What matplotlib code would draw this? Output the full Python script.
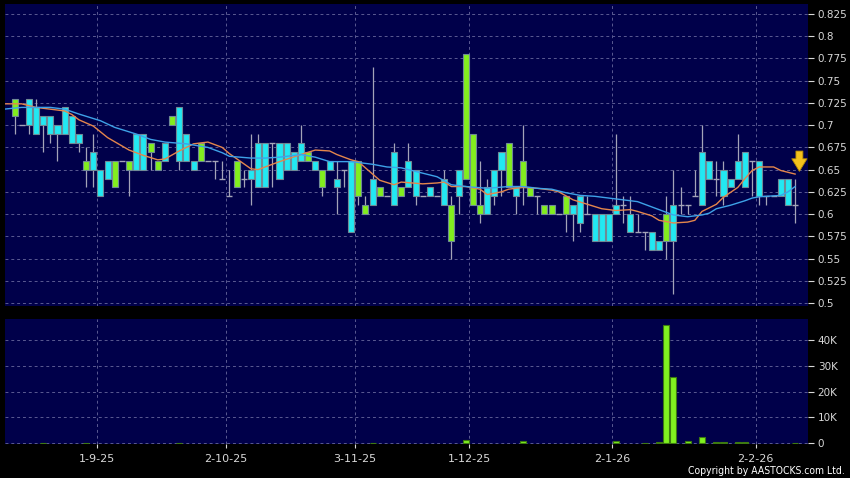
import numpy as np
import matplotlib
matplotlib.use('Agg')
import matplotlib.pyplot as plt
from matplotlib.ticker import FuncFormatter, FixedLocator

# 日K数据：开、高、低、收（按交易日顺序）
opens = [.73, .70, .70, .69, .70, .69, .69, .69, .68, .68,
         .66, .65, .62, .64, .66, .66, .66, .65, .65, .68,
         .66, .66, .71, .66, .66, .65, .68, .66, .66, .64,
         .62, .66, .64, .64, .63, .63, .68, .64, .65, .65,
         .66, .67, .65, .65, .65, .63, .65, .58, .66, .61,
         .61, .63, .62, .61, .63, .63, .62, .62, .62, .62,
         .61, .61, .62, .78, .69, .61, .60, .62, .65, .68,
         .62, .66, .63, .62, .61, .61, .60, .62, .60, .59,
         .60, .57, .57, .57, .60, .61, .58, .58, .58, .56,
         .56, .60, .57, .61, .61, .62, .61, .64, .64, .62,
         .63, .64, .63, .66, .62, .62, .62, .62, .61, .61]
highs = [.73, .70, .73, .73, .71, .71, .70, .72, .71, .69,
         .675, .69, .65, .66, .66, .66, .66, .69, .69, .68,
         .66, .68, .71, .72, .69, .66, .68, .66, .66, .66,
         .65, .66, .65, .69, .69, .68, .68, .68, .68, .67,
         .70, .67, .66, .65, .66, .66, .65, .66, .66, .62,
         .765, .63, .62, .68, .63, .68, .65, .62, .63, .62,
         .65, .62, .65, .78, .69, .66, .64, .65, .67, .68,
         .63, .70, .63, .62, .61, .61, .60, .62, .61, .62,
         .62, .60, .60, .60, .69, .62, .62, .60, .58, .58,
         .57, .62, .65, .63, .61, .65, .70, .66, .66, .66,
         .64, .69, .67, .66, .66, .62, .62, .64, .64, .64]
lows = [.69, .70, .69, .69, .67, .68, .66, .69, .68, .67,
        .63, .63, .62, .64, .63, .66, .62, .65, .65, .65,
        .65, .66, .70, .65, .66, .65, .66, .66, .64, .64,
        .62, .63, .63, .61, .63, .63, .63, .64, .65, .65,
        .66, .66, .65, .62, .65, .60, .63, .58, .61, .60,
        .61, .62, .62, .61, .62, .63, .61, .62, .62, .62,
        .61, .55, .60, .64, .61, .59, .60, .61, .62, .63,
        .60, .61, .62, .60, .60, .60, .60, .58, .57, .58,
        .60, .57, .57, .57, .60, .59, .58, .58, .56, .56,
        .56, .55, .51, .60, .60, .62, .61, .64, .62, .61,
        .63, .64, .63, .62, .61, .61, .62, .62, .61, .59]
closes = [.71, .70, .73, .72, .71, .71, .70, .72, .71, .69,
          .65, .67, .65, .66, .63, .66, .65, .69, .69, .67,
          .65, .68, .70, .72, .69, .66, .66, .66, .66, .64,
          .62, .63, .64, .65, .68, .68, .68, .68, .68, .67,
          .68, .66, .66, .63, .66, .64, .65, .66, .62, .60,
          .64, .62, .62, .67, .62, .66, .65, .62, .63, .62,
          .64, .57, .65, .64, .61, .60, .63, .65, .67, .63,
          .63, .63, .62, .62, .60, .60, .60, .60, .61, .62,
          .60, .60, .60, .60, .61, .61, .60, .58, .58, .58,
          .57, .57, .61, .61, .61, .62, .67, .66, .64, .65,
          .64, .66, .67, .66, .66, .62, .62, .64, .64, .61]

# 成交量（只列出有可见柱的交易日，单位：千股）
vol_days = [4, 10, 23, 50, 63, 71, 84, 88, 90, 91, 92, 94, 96, 98, 99, 101, 102, 109]
vol_k = [0.1, 0.1, 0.1, 0.15, 1.3, 1.0, 0.8, 0.2, 0.4, 45.9, 25.8, 0.7, 2.6, 0.5, 0.5, 0.3, 0.3, 0.2]

# 两条移动平均线
ma_fast_days = [-1.5, 1, 3, 5, 7, 8, 9, 11, 13, 16, 18, 20, 21, 23, 25, 27, 29, 30, 33, 34,
                35, 37, 40, 42, 44, 45, 47, 48, 50, 51, 53, 54, 57, 59, 60, 61, 63, 65, 66, 68,
                69, 71, 73, 75, 76, 78, 80, 82, 84, 86, 87, 89, 90, 92, 94, 95, 96, 98, 99, 101,
                102, 103, 104, 106, 107, 109]
ma_fast = [.724, .724, .720, .718, .716, .712, .706, .699, .686, .672, .666, .661, .662, .671, .679,
           .681, .675, .668, .651, .650, .653, .659, .667, .672, .671, .667, .661, .659, .645, .638,
           .633, .636, .634, .635, .636, .631, .631, .628, .622, .625, .628, .630, .629, .627, .625,
           .616, .611, .606, .604, .605, .603, .598, .593, .590, .591, .593, .603, .611, .619, .630,
           .640, .649, .653, .653, .649, .645]
ma_slow_days = [-1.5, 1, 5, 7, 9, 12, 14, 17, 19, 21, 24, 27, 29, 30, 33, 35, 37, 40, 42, 44,
                47, 50, 52, 54, 56, 57, 59, 61, 63, 66, 69, 71, 73, 75, 77, 79, 81, 83, 85, 87,
                89, 90, 92, 94, 96, 97, 98, 100, 102, 103, 104, 105, 107, 108, 109]
ma_slow = [.718, .720, .720, .718, .7125, .705, .6975, .690, .684, .681, .679, .675, .669, .665,
           .663, .663, .664, .667, .664, .659, .659, .656, .653, .652, .648, .646, .642, .633, .631,
           .629, .631, .631, .629, .628, .624, .621, .620, .618, .616, .614, .608, .605, .599, .597,
           .599, .601, .606, .610, .615, .618, .6195, .620, .621, .625, .631]

# 横轴日期标签
tick_days = [11.5, 29.5, 47.5, 63.5, 83.5, 103.5]
tick_labels = ['1-9-25', '2-10-25', '3-11-25', '1-12-25', '2-1-26', '2-2-26']

price_ticks = np.arange(0.5, 0.8251, 0.025)
vol_ticks = [0, 10, 20, 30, 40]

bg = '#00004a'
grid_c = '#5a5a92'
txt_c = '#d8d8d8'
up_c = '#22e8f2'
down_c = '#82ee1e'
wick_c = '#a4a4b8'
edge_c = '#6f8a96'

W, H = 850, 478
fig = plt.figure(figsize=(W / 100, H / 100), dpi=100, facecolor='black')
ax = fig.add_axes([5 / W, 1 - 306 / H, 803 / W, 302 / H])
axv = fig.add_axes([5 / W, 1 - 444 / H, 803 / W, 125 / H])

days = np.arange(len(opens))
o = np.array(opens)
c = np.array(closes)
hi = np.array(highs)
lo = np.array(lows)
bw = 0.84

for a in (ax, axv):
    a.set_facecolor(bg)
    for s in a.spines.values():
        s.set_visible(False)
    a.set_xlim(-1.33, 110.8)
    a.xaxis.set_major_locator(FixedLocator(tick_days))
    a.grid(True, color=grid_c, linestyle=(0, (3, 3)), linewidth=0.7)
    a.set_axisbelow(True)
    a.yaxis.tick_right()
    a.tick_params(axis='y', colors=txt_c, length=4, width=0.8, pad=3, labelsize=7.5)

# 影线
ax.vlines(days, lo, hi, color=wick_c, linewidth=0.9, zorder=2)

# 实体：青色为收高，绿色为收低，开=收画成横线
body = o != c
rise = c > o
ax.bar(days[body & rise], (c - o)[body & rise], bottom=o[body & rise], width=bw,
       color=up_c, edgecolor=edge_c, linewidth=0.8, zorder=3)
ax.bar(days[body & ~rise], (o - c)[body & ~rise], bottom=c[body & ~rise], width=bw,
       color=down_c, edgecolor=edge_c, linewidth=0.8, zorder=3)
ax.hlines(o[~body], days[~body] - bw / 2, days[~body] + bw / 2, color=wick_c, linewidth=1.0, zorder=3)

ax.plot(ma_fast_days, ma_fast, color='#e4864c', linewidth=1.0, zorder=4)
ax.plot(ma_slow_days, ma_slow, color='#3ea2e8', linewidth=1.0, zorder=4)

# 黄色箭头
ax.annotate('', xy=(days[-1] + 0.6, ma_fast[-1]), xytext=(days[-1] + 0.6, ma_fast[-1] + 0.029),
            arrowprops=dict(arrowstyle='simple,head_width=1.1,head_length=0.9,tail_width=0.5',
                            fc='#f4c21c', ec='#b88a00', lw=0.6), zorder=5)

ax.set_ylim(0.4966, 0.8363)
ax.yaxis.set_major_locator(FixedLocator(price_ticks))
ax.yaxis.set_major_formatter(FuncFormatter(lambda v, p: '{:g}'.format(round(v, 3))))
ax.tick_params(axis='x', length=0, labelbottom=False)

# 成交量
axv.bar(vol_days, vol_k, width=bw, color='#80f020', edgecolor='#3d7a10', linewidth=0.8, zorder=3)
axv.set_ylim(-0.3, 48.2)
axv.yaxis.set_major_locator(FixedLocator(vol_ticks))
axv.yaxis.set_major_formatter(FuncFormatter(lambda v, p: '0' if v == 0 else '%dK' % v))
axv.set_xticklabels(tick_labels)
axv.tick_params(axis='x', colors=txt_c, length=3, width=0.8, pad=4, labelsize=8)

fig.text(845 / W, 1 - 471 / H, 'Copyright by AASTOCKS.com Ltd.', ha='right', va='center',
         color='white', fontsize=7.5, family='DejaVu Sans', fontstretch='condensed')

plt.savefig('out.png', dpi=100, facecolor='black')
